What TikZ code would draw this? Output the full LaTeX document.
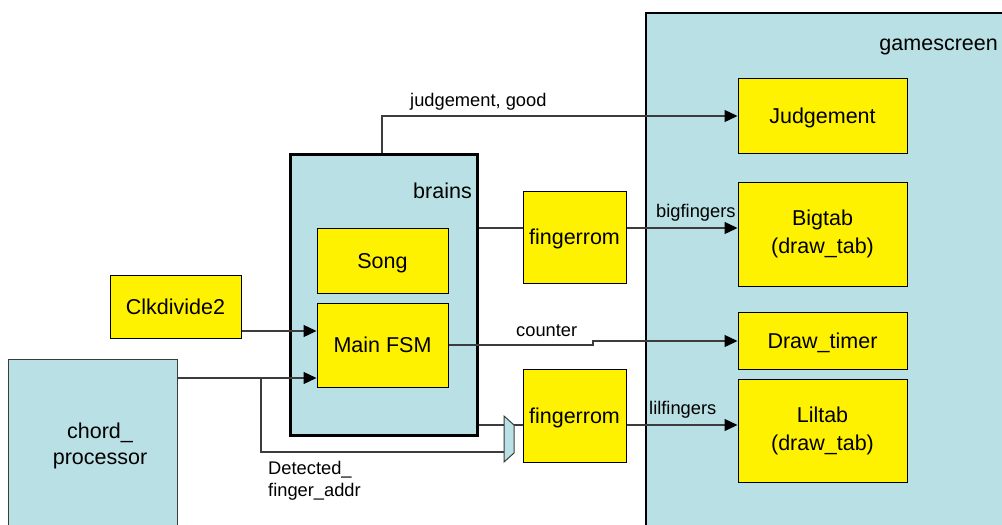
\documentclass[tikz,border=0pt]{standalone}
\usepackage{fontspec}
\setmainfont{Liberation Sans}
\usetikzlibrary{arrows.meta}
\definecolor{lblue}{RGB}{185,224,228}
\definecolor{wire}{RGB}{60,60,60}
\tikzset{
  ybox/.style={draw=black, line width=1pt, fill=yellow, inner sep=0pt, align=center, font=\fontsize{21.5}{28}\selectfont},
  yone/.style={ybox, text height=15.4pt, text depth=0pt},
  bbox/.style={draw=black, fill=lblue, inner sep=0pt},
  wirel/.style={draw=wire, line width=1.3pt},
  arr/.style={wirel, -{Triangle[length=13pt,width=12pt,color=black]}},
  lbl/.style={font=\fontsize{18.3}{22}\selectfont, inner sep=0pt, align=left},
}
\begin{document}
\begin{tikzpicture}[x=1pt,y=-1pt]
\useasboundingbox (0,0) rectangle (1002,525);
\clip (0,0) rectangle (1002,525);
% gamescreen
\node[bbox, line width=2pt, minimum width=380pt, minimum height=530pt, anchor=north west] (game) at (645,12) {};
\node[lbl, font=\fontsize{21.5}{26}\selectfont, anchor=base east] (gamel) at (998,50) {gamescreen};
% chord processor
\node[bbox, draw=wire, line width=1pt, minimum width=169pt, minimum height=200pt, anchor=north west] (chord) at (8,359) {};
\node[align=center, inner sep=0pt, font=\fontsize{21.5}{26}\selectfont] (chordl) at (100,446) {chord\_\\processor};
% brains
\node[bbox, line width=2.5pt, minimum width=187pt, minimum height=281pt, anchor=north west] (brains) at (289,153) {};
\node[lbl, font=\fontsize{21.5}{26}\selectfont, anchor=base east] (brainsl) at (472,198) {brains};
% yellow boxes
\node[yone, minimum width=169pt, minimum height=75pt] (judge) at (822.5,115.5) {Judgement};
\node[ybox, minimum width=169pt, minimum height=104pt] (bigtab) at (822.5,234) {Bigtab\\(draw\_tab)};
\node[yone, minimum width=169pt, minimum height=57pt] (timer) at (822.5,340.5) {Draw\_timer};
\node[ybox, minimum width=169pt, minimum height=103pt] (liltab) at (822.5,430.5) {Liltab\\(draw\_tab)};
\node[yone, minimum width=131pt, minimum height=65pt] (song) at (382.5,260.5) {Song};
\node[yone, minimum width=131pt, minimum height=84pt] (fsm) at (382.5,345) {Main FSM};
\node[yone, minimum width=131pt, minimum height=63pt] (clk) at (175.5,306.5) {Clkdivide2};
\node[yone, minimum width=103pt, minimum height=92pt] (from1) at (574.5,237) {fingerrom};
\node[yone, minimum width=103pt, minimum height=93pt] (from2) at (574.5,415.5) {fingerrom};
% mux
\draw[draw=wire, fill=lblue, line width=1pt] (504,416) -- (514,425) -- (514,453) -- (504,462) -- cycle;
\coordinate (muxa) at (504,425);
\coordinate (muxb) at (504,452);
\coordinate (muxo) at (514,425);
% connectors
\draw[arr] (brains.north -| 382,0) -- (382,116) -- (judge.west |- 0,116);
\node[lbl, anchor=base west] (l1) at (410,106) {judgement, good};
\draw[wirel] (brains.east |- 0,228) -- (from1.west |- 0,228);
\draw[arr] (from1.east |- 0,228) -- (bigtab.west |- 0,228);
\node[lbl, anchor=base west] (l2) at (656,217) {bigfingers};
\draw[arr] (clk.east |- 0,331) -- (fsm.west |- 0,331);
\draw[arr] (chord.east |- 0,378) -- (fsm.west |- 0,378);
\draw[wirel] (261,378) -- (261,452) -- (muxb);
\draw[arr] (fsm.east |- 0,345) -- (593,345) -- (593,341) -- (timer.west |- 0,341);
\node[lbl, anchor=base west] (l3) at (516,336) {counter};
\draw[wirel] (brains.east |- 0,425) -- (muxa);
\draw[wirel] (muxo) -- (from2.west |- 0,425);
\draw[arr] (from2.east |- 0,425) -- (liltab.west |- 0,425);
\node[lbl, anchor=base west] (l4) at (649,414) {lilfingers};
\node[lbl, anchor=north west] (l5) at (268,461) {Detected\_\\finger\_addr};
\end{tikzpicture}
\end{document}
